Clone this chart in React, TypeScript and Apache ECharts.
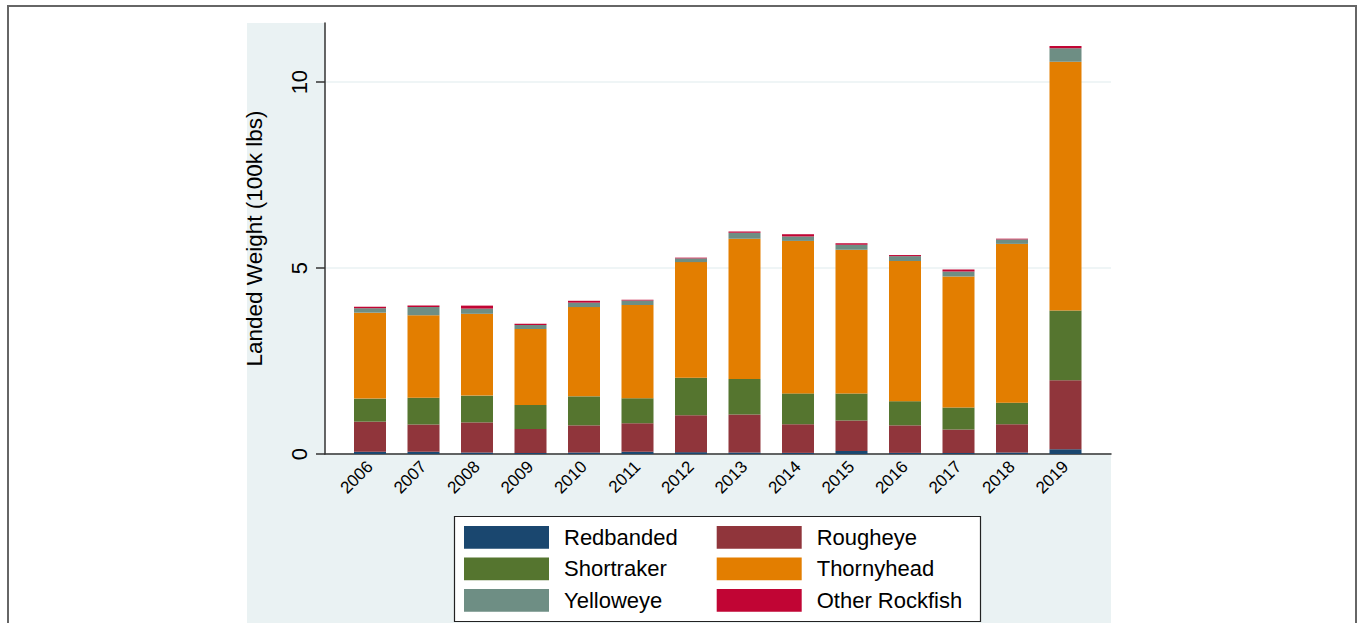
import React, { useEffect, useRef } from "react";
import * as echarts from "echarts";

const years = ["2006", "2007", "2008", "2009", "2010", "2011", "2012", "2013", "2014", "2015", "2016", "2017", "2018", "2019"];
const redbanded = [0.06, 0.06, 0.04, 0.03, 0.04, 0.06, 0.05, 0.04, 0.03, 0.08, 0.03, 0.03, 0.04, 0.13];
const rougheye = [0.81, 0.73, 0.81, 0.64, 0.73, 0.77, 0.99, 1.02, 0.77, 0.82, 0.74, 0.63, 0.76, 1.85];
const shortraker = [0.62, 0.72, 0.72, 0.65, 0.78, 0.67, 1.01, 0.96, 0.83, 0.73, 0.65, 0.59, 0.58, 1.88];
const thornyhead = [2.31, 2.22, 2.2, 2.04, 2.4, 2.51, 3.11, 3.77, 4.1, 3.86, 3.77, 3.52, 4.27, 6.69];
const yelloweye = [0.12, 0.22, 0.14, 0.11, 0.12, 0.12, 0.1, 0.16, 0.12, 0.14, 0.13, 0.14, 0.12, 0.36];
const otherRockfish = [0.04, 0.04, 0.08, 0.03, 0.05, 0.02, 0.02, 0.03, 0.06, 0.04, 0.03, 0.05, 0.02, 0.06];
const yTicks = [0, 5, 10];

const FONT = "'Liberation Sans', Arial, sans-serif";

const seriesDefs = [
  { name: "Redbanded", data: redbanded, color: "#1a476f" },
  { name: "Rougheye", data: rougheye, color: "#90353b" },
  { name: "Shortraker", data: shortraker, color: "#55752f" },
  { name: "Thornyhead", data: thornyhead, color: "#e37e00" },
  { name: "Yelloweye", data: yelloweye, color: "#6e8e84" },
  { name: "Other Rockfish", data: otherRockfish, color: "#c10534" },
];

export default function App() {
  const ref = useRef<HTMLDivElement>(null);
  useEffect(() => {
    if (!ref.current) return;
    const chart = echarts.init(ref.current, undefined, { renderer: "svg" });
    const YMAX = 11.59;
    const legendCommon = {
      orient: "vertical",
      top: 526,
      padding: 0,
      itemWidth: 85,
      itemHeight: 22.7,
      itemGap: 8.8,
      icon: "rect",
      selectedMode: false,
      textStyle: { fontSize: 22, color: "#000", fontFamily: FONT, padding: [0, 0, 0, 10] },
    };
    chart.setOption({
      animation: false,
      backgroundColor: "#fff",
      textStyle: { fontFamily: FONT },
      graphic: [
        {
          type: "rect",
          z: -10,
          shape: { x: 247, y: 23, width: 864, height: 640 },
          style: { fill: "#eaf2f3" },
          silent: true,
        },
        {
          type: "rect",
          z: -9,
          shape: { x: 8, y: 6, width: 1348, height: 700 },
          style: { fill: "none", stroke: "#666", lineWidth: 2 },
          silent: true,
        },
        {
          type: "rect",
          z: 1,
          shape: { x: 454.5, y: 516.5, width: 526, height: 105 },
          style: { fill: "#fff", stroke: "#222", lineWidth: 1.2 },
          silent: true,
        },
      ],
      legend: [
        { ...legendCommon, left: 464, data: ["Redbanded", "Shortraker", "Yelloweye"] },
        { ...legendCommon, left: 716.7, data: ["Rougheye", "Thornyhead", "Other Rockfish"] },
      ],
      grid: [
        {
          left: 325,
          top: 23,
          width: 786,
          height: 431,
          show: true,
          backgroundColor: "#fff",
          borderWidth: 0,
          containLabel: false,
          outerBoundsMode: "none",
        },
        {
          left: 343.25,
          top: 23,
          width: 749,
          height: 431,
          show: false,
          containLabel: false,
          outerBoundsMode: "none",
        },
      ],
      xAxis: [
        {
          type: "value",
          gridIndex: 0,
          min: 0,
          max: 1,
          axisLine: { show: true, onZero: false, lineStyle: { color: "#333", width: 1.5 } },
          axisTick: { show: false },
          axisLabel: { show: false },
          splitLine: { show: false },
        },
        {
          type: "category",
          gridIndex: 1,
          data: years,
          axisLine: { show: false },
          axisTick: { show: false },
          splitLine: { show: false },
          axisLabel: {
            rotate: 45,
            fontSize: 17,
            color: "#000",
            fontFamily: FONT,
            margin: 10,
            interval: 0,
          },
        },
      ],
      yAxis: [
        {
          type: "value",
          gridIndex: 0,
          min: 0,
          max: YMAX,
          interval: 5,
          name: "Landed Weight (100k lbs)",
          nameLocation: "middle",
          nameRotate: 90,
          nameGap: 59,
          nameTextStyle: { fontSize: 22.5, color: "#000", fontFamily: FONT },
          axisLine: { show: true, lineStyle: { color: "#333", width: 1.5 } },
          axisTick: {
            show: true,
            length: 9,
            customValues: yTicks,
            lineStyle: { color: "#333", width: 1.5 },
          },
          axisLabel: {
            rotate: 90,
            fontSize: 22,
            color: "#000",
            fontFamily: FONT,
            margin: 15,
            customValues: yTicks,
            formatter: (v: number) => (yTicks.indexOf(v) >= 0 ? String(v) : ""),
          },
          splitLine: { show: true, lineStyle: { color: "#eaf2f3", width: 1.5 } },
        },
        {
          type: "value",
          gridIndex: 1,
          min: 0,
          max: YMAX,
          interval: 5,
          show: false,
          splitLine: { show: false },
        },
      ],
      series: seriesDefs.map((s) => ({
        name: s.name,
        type: "bar",
        stack: "total",
        xAxisIndex: 1,
        yAxisIndex: 1,
        barWidth: 32,
        data: s.data,
        itemStyle: { color: s.color },
        emphasis: { disabled: true },
      })),
    });
    return () => chart.dispose();
  }, []);
  return (
    <div
      ref={ref}
      style={{ position: "absolute", left: 0, top: 0, width: 1360, height: 623 }}
    />
  );
}
